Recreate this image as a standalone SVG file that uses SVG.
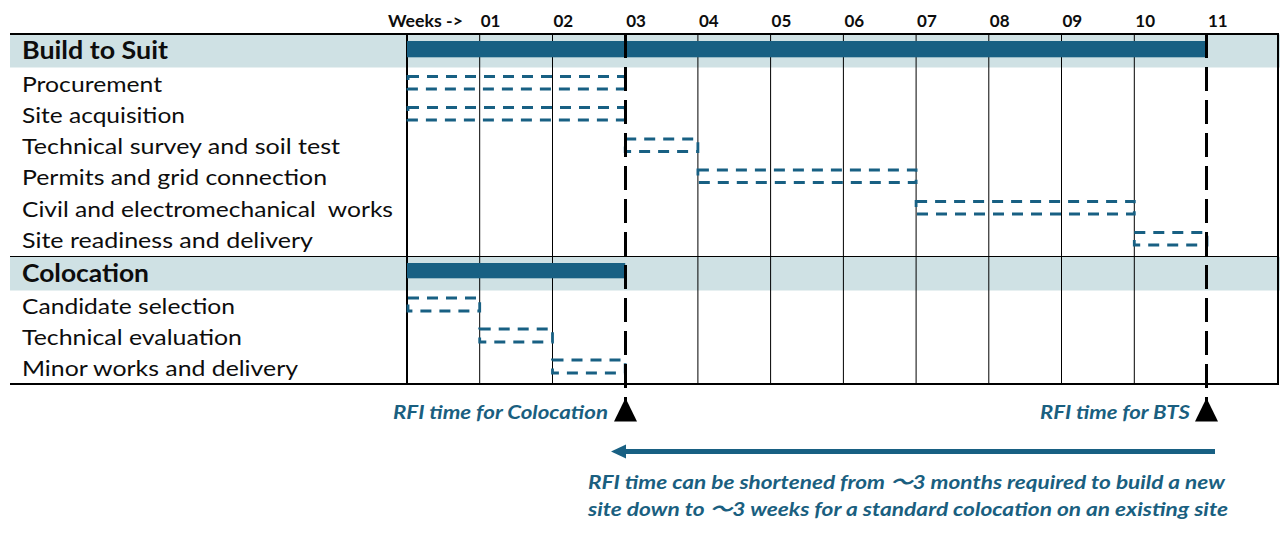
<svg xmlns="http://www.w3.org/2000/svg" width="1280" height="536" viewBox="0 0 1280 536">
  <style>
    .lbl { font-family: Lato, "Liberation Sans", sans-serif; font-size: 21px; fill: #0d0d0d; }
    .hdr { font-family: Lato, "Liberation Sans", sans-serif; font-size: 24px; font-weight: bold; fill: #0d0d0d; }
    .wk { font-family: Lato, "Liberation Sans", sans-serif; font-size: 17px; font-weight: bold; fill: #0d0d0d; }
    .note { font-family: Lato, "Noto Sans CJK SC", "Liberation Sans", sans-serif; font-size: 19.5px; font-weight: bold; font-style: italic; fill: #1a5f80; }
    .band { fill: #cfe1e4; }
    .bar { fill: #186083; }
    .grid { stroke: #000; stroke-width: 1; }
    .frame { stroke: #000; stroke-width: 2; }
    .rfi { stroke: #000; stroke-width: 3; stroke-dasharray: 24 9; }
    .task { fill: none; stroke: #186083; stroke-width: 2.8; stroke-dasharray: 11 8; }
  </style>

  <!-- bands -->
  <g id="bands">
    <rect class="band" x="10" y="34.5" width="1270" height="33"/>
    <rect class="band" x="10" y="257" width="1270" height="33.5"/>
  </g>

  <!-- grid -->
  <g id="grid">
    <line class="grid" x1="479.7" y1="34" x2="479.7" y2="384"/>
    <line class="grid" x1="552.5" y1="34" x2="552.5" y2="384"/>
    <line class="grid" x1="697.9" y1="34" x2="697.9" y2="384"/>
    <line class="grid" x1="770.6" y1="34" x2="770.6" y2="384"/>
    <line class="grid" x1="843.4" y1="34" x2="843.4" y2="384"/>
    <line class="grid" x1="916.1" y1="34" x2="916.1" y2="384"/>
    <line class="grid" x1="988.8" y1="34" x2="988.8" y2="384"/>
    <line class="grid" x1="1061.5" y1="34" x2="1061.5" y2="384"/>
    <line class="grid" x1="1134.3" y1="34" x2="1134.3" y2="384"/>
    <line class="grid" x1="10" y1="256.5" x2="1278" y2="256.5"/>
    <line class="frame" x1="407" y1="34" x2="407" y2="384"/>
    <line class="frame" x1="1278" y1="33" x2="1278" y2="385"/>
    <line class="frame" x1="10" y1="34" x2="1279" y2="34"/>
    <line class="frame" x1="10" y1="384" x2="1279" y2="384"/>
  </g>

  <!-- header -->
  <g id="weeks">
    <text class="wk" x="388" y="26.5" textLength="75" lengthAdjust="spacingAndGlyphs">Weeks -&gt;</text>
    <text class="wk" x="480.7" y="26.5">01</text>
    <text class="wk" x="553.5" y="26.5">02</text>
    <text class="wk" x="626.2" y="26.5">03</text>
    <text class="wk" x="698.9" y="26.5">04</text>
    <text class="wk" x="771.6" y="26.5">05</text>
    <text class="wk" x="844.4" y="26.5">06</text>
    <text class="wk" x="917.1" y="26.5">07</text>
    <text class="wk" x="989.8" y="26.5">08</text>
    <text class="wk" x="1062.5" y="26.5">09</text>
    <text class="wk" x="1135.3" y="26.5">10</text>
    <text class="wk" x="1208" y="26.5">11</text>
  </g>

  <!-- Build to Suit -->
  <g id="bts">
    <text class="hdr" x="22" y="58.5" textLength="146" lengthAdjust="spacingAndGlyphs">Build to Suit</text>
    <rect class="bar" x="407" y="41" width="800" height="16.3"/>
  </g>
  <g id="procurement">
    <text class="lbl" x="22" y="91.5" textLength="140" lengthAdjust="spacingAndGlyphs">Procurement</text>
    <rect class="task" x="408" y="76.5" width="217.2" height="12.5"/>
  </g>
  <g id="site-acquisition">
    <text class="lbl" x="22" y="123" textLength="163" lengthAdjust="spacingAndGlyphs">Site acquisition</text>
    <rect class="task" x="408" y="107.5" width="217.2" height="12.5"/>
  </g>
  <g id="technical-survey">
    <text class="lbl" x="22" y="154" textLength="318" lengthAdjust="spacingAndGlyphs">Technical survey and soil test</text>
    <rect class="task" x="625.2" y="139" width="72.7" height="12.5"/>
  </g>
  <g id="permits">
    <text class="lbl" x="22" y="185" textLength="305" lengthAdjust="spacingAndGlyphs">Permits and grid connection</text>
    <rect class="task" x="697.9" y="170" width="218.2" height="12.5"/>
  </g>
  <g id="civil-works">
    <text class="lbl" x="22" y="216.5" textLength="371" lengthAdjust="spacingAndGlyphs" xml:space="preserve">Civil and electromechanical  works</text>
    <rect class="task" x="916.1" y="201.5" width="218.2" height="12.5"/>
  </g>
  <g id="site-readiness">
    <text class="lbl" x="22" y="248" textLength="291" lengthAdjust="spacingAndGlyphs">Site readiness and delivery</text>
    <rect class="task" x="1134.3" y="232.5" width="72.7" height="12.5"/>
  </g>

  <!-- Colocation -->
  <g id="colocation">
    <text class="hdr" x="22" y="281.5" textLength="127" lengthAdjust="spacingAndGlyphs">Colocation</text>
    <rect class="bar" x="407" y="263" width="218.2" height="15.3"/>
  </g>
  <g id="candidate-selection">
    <text class="lbl" x="22" y="313.5" textLength="213" lengthAdjust="spacingAndGlyphs">Candidate selection</text>
    <rect class="task" x="408" y="298" width="71.7" height="13"/>
  </g>
  <g id="technical-evaluation">
    <text class="lbl" x="22" y="344.5" textLength="220" lengthAdjust="spacingAndGlyphs">Technical evaluation</text>
    <rect class="task" x="479.7" y="329" width="72.8" height="13"/>
  </g>
  <g id="minor-works">
    <text class="lbl" x="22" y="375.5" textLength="276" lengthAdjust="spacingAndGlyphs">Minor works and delivery</text>
    <rect class="task" x="552.5" y="360" width="72.7" height="13"/>
  </g>

  <!-- RFI markers and connectors -->
  <g id="connectors">
    <line class="rfi" x1="625.5" y1="34" x2="625.5" y2="421"/>
    <polygon points="625.5,398 614,421.5 637,421.5" fill="#000"/>
    <line class="rfi" x1="1206.5" y1="34" x2="1206.5" y2="421"/>
    <polygon points="1206.5,398 1195,421.5 1218,421.5" fill="#000"/>
    <line x1="624" y1="451.5" x2="1215" y2="451.5" stroke="#186083" stroke-width="5"/>
    <polygon points="611,451.5 626,444.5 626,458.5" fill="#186083"/>
  </g>

  <g id="notes">
    <text class="note" x="608" y="419" text-anchor="end" textLength="215" lengthAdjust="spacingAndGlyphs">RFI time for Colocation</text>
    <text class="note" x="1190" y="419" text-anchor="end" textLength="150" lengthAdjust="spacingAndGlyphs">RFI time for BTS</text>
    <text class="note" x="588" y="489" textLength="637" lengthAdjust="spacingAndGlyphs">RFI time can be shortened from ～3 months required to build a new</text>
    <text class="note" x="588" y="516" textLength="640" lengthAdjust="spacingAndGlyphs">site down to ～3 weeks for a standard colocation on an existing site</text>
  </g>
</svg>
